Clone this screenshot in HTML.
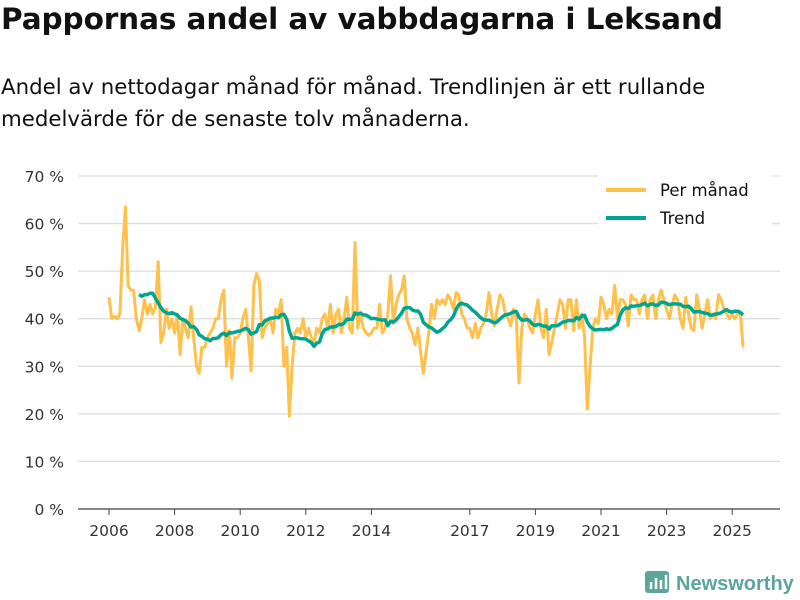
<!DOCTYPE html>
<html><head><meta charset="utf-8">
<style>
body{margin:0;width:800px;height:600px;background:#fff;font-family:"DejaVu Sans","Liberation Sans",sans-serif;overflow:hidden}
#t{position:absolute;left:1px;top:2px;font-size:29.5px;font-weight:bold;color:#111;margin:0;letter-spacing:-0.1px}
#s{position:absolute;left:1px;top:72px;font-size:21.3px;line-height:32px;color:#111;margin:0}
svg{position:absolute;left:0;top:0}
</style></head><body>
<h1 id="t">Pappornas andel av vabbdagarna i Leksand</h1>
<p id="s">Andel av nettodagar månad för månad. Trendlinjen är ett rullande<br>medelvärde för de senaste tolv månaderna.</p>
<svg id="c" width="800" height="600"></svg>
<script>
const startYear = 2006;
const monthly = [44.5,40,40.5,40,41,55,63.5,47,46,46,40,37.5,
40,44,41,43,41,42.5,52,35,37,42,38,40,
37,41,32.5,40,38,36,42.5,36,30,28.5,34,34,
36,37,38,40,40,44,46,30,37.5,27.5,36,36,
37,40,42,36,29,47,49.5,48,36,38,39,40,
37,42,41,44,30,34,19.5,30,37,38,37,40,
36,38,36,35,38,37,40,41,38,43,37,41,
42,37,40,44.5,38,37,56,38,41,38,37,36.5,
37,38,38,43,37,38,41,49,39,43,45,46,
49,40,38,37,34.5,38,33,28.5,33,37,43,40,
44,43,44,43,45,44,42,45.5,45,41,40,38,
38,36,39,36,38,39,41,45.5,41,38.5,42,45,
44,41,40,38.5,42,40,26.5,38,41,40,38,37,
41,44,38,36,42,32.5,35,38,41,44,43,38,
44,44,37.5,44,38,41,36,21,30,38,40,39,
44.5,43,40,42,41,47,40,44,44,43,38.5,45,
44,44,41,44,45,40,44,45,40,44,46,44,
42,40,43,45,44,40,38,44.5,41,38,37.5,45,
42,38,41,44,40,41,40,45,44,42,41,40,
41,40,41,41,34];
const yTicks = [0,10,20,30,40,50,60,70];
const xTicks = [2006,2008,2010,2012,2014,2017,2019,2021,2023,2025];

const NS="http://www.w3.org/2000/svg";
const svg=document.getElementById('c');
const x=t=>109+(t-2006)*32.8;
const y=v=>509-v*4.757;
function mk(tag,attrs,parent){const e=document.createElementNS(NS,tag);for(const k in attrs)e.setAttribute(k,attrs[k]);(parent||svg).appendChild(e);return e;}

yTicks.forEach(v=>{
  const l=mk('line',{x1:78,x2:780,y1:y(v),y2:y(v),stroke:'#dcdcdc','stroke-width':1.3});
  
  
  const t=mk('text',{x:64,y:y(v)+6,'text-anchor':'end','font-size':15.5,fill:'#333'});
  t.textContent=v+' %';
  
  
});
const ax=mk('line',{x1:78,x2:780,y1:509,y2:509,stroke:'#444','stroke-width':1.3});


xTicks.forEach(yr=>{
  const tk=mk('line',{x1:x(yr),x2:x(yr),y1:509,y2:515,stroke:'#444'});
  
  
  const t=mk('text',{x:x(yr),y:536,'text-anchor':'middle','font-size':15.5,fill:'#333'});
  t.textContent=yr;
  
  
});
const tm=i=>startYear+i/12;
let d=monthly.map((v,i)=>(i?'L':'M')+x(tm(i)).toFixed(1)+' '+y(v).toFixed(1)).join(' ');
const p1=mk('path',{d:d,fill:'none',stroke:'#ffc04c','stroke-width':3,'stroke-linejoin':'round'});


let td=[];
for(let i=11;i<monthly.length;i++){let s=0;for(let j=i-11;j<=i;j++)s+=monthly[j];td.push((td.length?'L':'M')+x(tm(i)).toFixed(1)+' '+y(s/12).toFixed(1));}
const p2=mk('path',{d:td.join(' '),fill:'none',stroke:'#00a592','stroke-width':3.5,'stroke-linejoin':'round'});



const lg=mk('g',{});


mk('rect',{x:598,y:174,width:174,height:62,fill:'#fff'},lg);
mk('line',{x1:606,x2:646,y1:190,y2:190,stroke:'#ffc04c','stroke-width':4},lg);
mk('line',{x1:606,x2:646,y1:218,y2:218,stroke:'#00a592','stroke-width':4},lg);
const l1=mk('text',{x:660,y:196,'font-size':16.5,fill:'#111'},lg);l1.textContent='Per månad';


const l2=mk('text',{x:660,y:224,'font-size':16.5,fill:'#111'},lg);l2.textContent='Trend';



const logo=mk('g',{});


mk('rect',{x:645,y:571,width:24,height:22,rx:3,fill:'#5aa59c'},logo);
mk('path',{d:'M651 589 V582 M656 589 V578 M661 589 V580 M666 589 V575',stroke:'#fff','stroke-width':2.5},logo);
const lt=mk('text',{x:676,y:590,'font-size':20,'font-weight':'bold',fill:'#5aa59c','font-family':'Liberation Sans, sans-serif'},logo);lt.textContent='Newsworthy';
</script>
</body></html>
